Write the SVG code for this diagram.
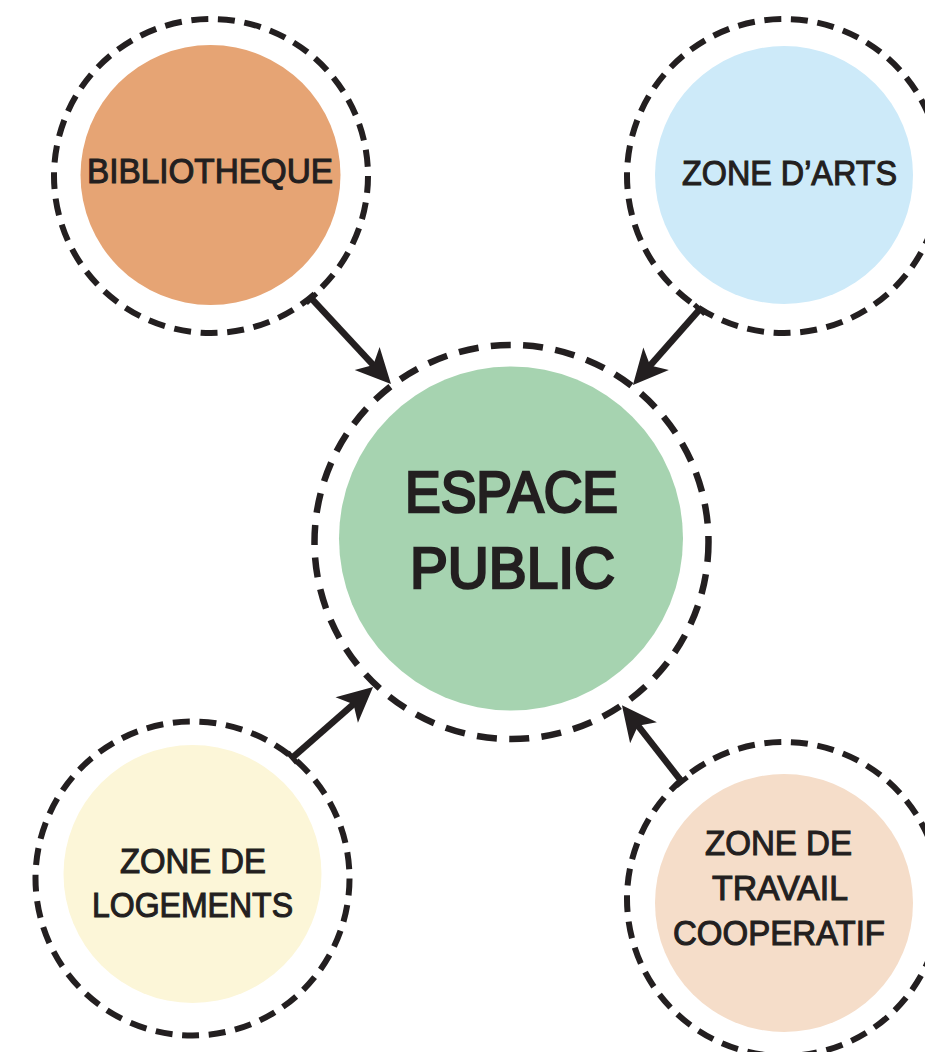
<svg xmlns="http://www.w3.org/2000/svg" width="925" height="1052" viewBox="0 0 925 1052">
<defs>
<style>
.ring{fill:none;stroke:#231F20;stroke-width:6;stroke-dasharray:17 9.66}
.ringL{fill:none;stroke:#231F20;stroke-width:6.5;stroke-dasharray:20 12.4}
.lbl{font-family:"Liberation Sans",Arial,sans-serif;fill:#231F20;stroke:#231F20;stroke-width:1.1;text-anchor:middle;font-size:35px}
.lbl.big{font-size:58px;stroke-width:2.6}
.conn{stroke:#231F20;stroke-width:6.5;fill:none;marker-end:url(#arrow);marker-start:url(#tick)}
</style>
<marker id="arrow" markerUnits="userSpaceOnUse" markerWidth="60" markerHeight="44" viewBox="-22 -22 60 44" refX="0" refY="0" orient="auto">
<path d="M22,0 L-13,-17 L-4,0 L-13,17 Z" fill="#231F20"/>
</marker>
<marker id="tick" markerUnits="userSpaceOnUse" markerWidth="20" markerHeight="20" viewBox="-10 -10 20 20" refX="0" refY="0" orient="auto">
<rect x="-2" y="-7" width="5" height="14" fill="#231F20"/>
</marker>
</defs>
<rect width="925" height="1052" fill="#fff"/>
<g id="connectors">
<line class="conn" x1="311" y1="298" x2="376" y2="368"/>
<line class="conn" x1="700" y1="309" x2="647.5" y2="368.5"/>
<line class="conn" x1="292" y1="758" x2="356.5" y2="701.5"/>
<line class="conn" x1="682" y1="782" x2="635.5" y2="722.5"/>
</g>
<g id="bibliotheque">
<circle class="ring" cx="211" cy="176" r="157"/>
<circle cx="210.5" cy="175" r="130" fill="#E6A474"/>
<text class="lbl" x="210" y="183" textLength="246" lengthAdjust="spacingAndGlyphs">BIBLIOTHEQUE</text>
</g>
<g id="zone-arts">
<circle class="ring" cx="784" cy="176" r="157"/>
<circle cx="784" cy="175" r="129" fill="#CDEAF9"/>
<text class="lbl" x="789.5" y="185" textLength="215" lengthAdjust="spacingAndGlyphs">ZONE D’ARTS</text>
</g>
<g id="espace-public">
<circle class="ringL" cx="511.5" cy="542" r="197"/>
<circle cx="511" cy="538.5" r="172" fill="#A6D3B0"/>
<text class="lbl big" x="511.5" y="512" textLength="213" lengthAdjust="spacingAndGlyphs">ESPACE</text>
<text class="lbl big" x="512.5" y="588" textLength="205" lengthAdjust="spacingAndGlyphs">PUBLIC</text>
</g>
<g id="zone-logements">
<circle class="ring" cx="192.5" cy="878.5" r="157"/>
<circle cx="192.5" cy="874" r="129" fill="#FCF6D8"/>
<text class="lbl" x="193" y="873" textLength="146" lengthAdjust="spacingAndGlyphs">ZONE DE</text>
<text class="lbl" x="192.5" y="917" textLength="201" lengthAdjust="spacingAndGlyphs">LOGEMENTS</text>
</g>
<g id="zone-travail">
<circle class="ring" cx="784" cy="899" r="157"/>
<circle cx="784" cy="903" r="129" fill="#F5DDC9"/>
<text class="lbl" x="778.5" y="855" textLength="147" lengthAdjust="spacingAndGlyphs">ZONE DE</text>
<text class="lbl" x="780" y="900" textLength="136" lengthAdjust="spacingAndGlyphs">TRAVAIL</text>
<text class="lbl" x="779" y="945" textLength="212" lengthAdjust="spacingAndGlyphs">COOPERATIF</text>
</g>
</svg>
